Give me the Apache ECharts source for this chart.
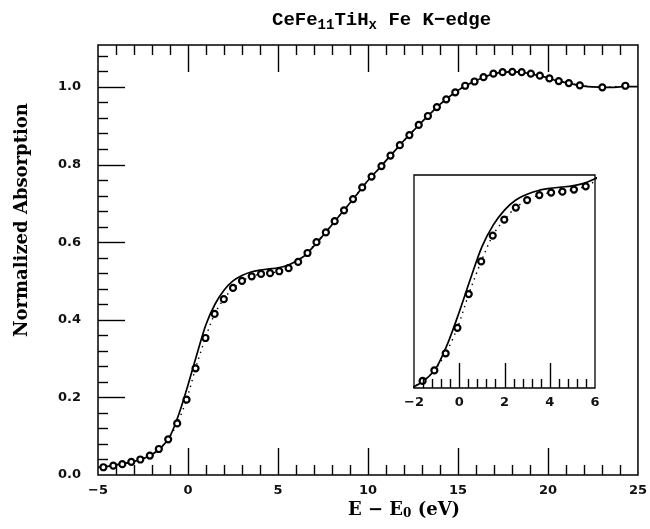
<!DOCTYPE html>
<html>
<head>
<meta charset="utf-8">
<script src="https://cdn.jsdelivr.net/npm/echarts@6/dist/echarts.min.js"></script>
<style>
  html, body { margin: 0; padding: 0; background: #fff; }
  #chart { width: 650px; height: 529px; }
</style>
</head>
<body>
<div id="chart"></div>
<script>
// Measured Fe K-edge spectrum (circles, dotted line)
const expEnergy = [-4.7, -4.15, -3.65, -3.15, -2.65, -2.12, -1.62, -1.1, -0.6, -0.08,
  0.42, 0.97, 1.48, 1.99, 2.5, 3.0, 3.54, 4.06, 4.56, 5.07, 5.59, 6.12, 6.64,
  7.14, 7.66, 8.15, 8.67, 9.17, 9.68, 10.2, 10.75, 11.25, 11.77, 12.3, 12.82,
  13.33, 13.83, 14.35, 14.85, 15.4, 15.92, 16.42, 16.97, 17.48, 18.02, 18.54,
  19.05, 19.55, 20.08, 20.6, 21.16, 21.77, 23.02, 24.3];
const expAbs = [0.020, 0.024, 0.028, 0.034, 0.040, 0.050, 0.067, 0.092, 0.133, 0.194,
  0.275, 0.353, 0.415, 0.453, 0.482, 0.500, 0.512, 0.518, 0.520, 0.525, 0.533, 0.549, 0.572,
  0.600, 0.625, 0.654, 0.682, 0.711, 0.741, 0.769, 0.796, 0.823, 0.850, 0.876, 0.902,
  0.925, 0.948, 0.968, 0.986, 1.003, 1.014, 1.025, 1.034, 1.038, 1.039, 1.038,
  1.034, 1.029, 1.022, 1.015, 1.010, 1.004, 0.999, 1.003];

// Calculated edge (solid line)
const calcEnergy = [-5, -4.5, -4, -3.5, -3, -2.5, -2, -1.5, -1, -0.5, 0, 0.5, 1, 1.5,
  2, 2.5, 3, 3.5, 4, 4.5, 5, 5.5, 6, 6.5, 7, 7.5, 8, 8.5, 9, 9.5, 10, 10.5, 11, 11.5,
  12, 12.5, 13, 13.5, 14, 14.5, 15, 15.5, 16, 16.5, 17, 17.5, 18, 18.5, 19, 19.5,
  20, 20.5, 21, 21.5, 22, 22.5, 23, 23.5, 24, 24.5, 25];
const calcAbs = [0.020, 0.022, 0.026, 0.030, 0.035, 0.042, 0.053, 0.070, 0.100, 0.158,
  0.232, 0.312, 0.388, 0.440, 0.476, 0.500, 0.514, 0.523, 0.528, 0.531, 0.534, 0.540,
  0.551, 0.566, 0.590, 0.617, 0.645, 0.673, 0.701, 0.730, 0.759, 0.784, 0.810, 0.836,
  0.862, 0.886, 0.910, 0.933, 0.955, 0.974, 0.991, 1.005, 1.016, 1.026, 1.034, 1.038,
  1.039, 1.038, 1.034, 1.029, 1.023, 1.016, 1.011, 1.006, 1.002, 1.000, 0.999, 0.999,
  1.000, 1.001, 1.001];

// Axis ranges and tick spacing
const mainX = { min: -5, max: 25, step: 5, minor: 1 };
const mainY = { min: 0, max: 1.108, step: 0.2, minor: 0.04 };
const insetX = { min: -2, max: 6, step: 2, minor: 0.4 };
const insetY = { min: 0.05, max: 0.56 };

const expPairs = expEnergy.map((e, i) => [e, expAbs[i]]);
const calcPairs = calcEnergy.map((e, i) => [e, calcAbs[i]]);

// Tick values strictly inside the frame: [value, isMajor]
function tickValues(min, max, minor, step) {
  const out = [];
  const n = Math.floor((max - min) / minor + 1e-6);
  for (let i = 1; i <= n; i++) {
    const v = +(min + i * minor).toFixed(4);
    if (v >= max - 1e-6) break;
    const r = v / step;
    out.push([v, Math.abs(r - Math.round(r)) < 1e-6]);
  }
  return out;
}

const MAJOR_LEN = 27, MINOR_LEN = 10;
const xTicks = tickValues(mainX.min, mainX.max, mainX.minor, mainX.step);
const yTicks = tickValues(mainY.min, mainY.max, mainY.minor, mainY.step);
const insetTicks = tickValues(insetX.min, insetX.max, insetX.minor, insetX.step);

// rows: [x, y, length, direction]  direction 0 = up, 1 = down, 2 = right
const bottomTickData = xTicks.map(([v, m]) => [v, mainY.min, m ? MAJOR_LEN : MINOR_LEN, 0]);
const topTickData = xTicks.map(([v, m]) => [v, mainY.max, m ? MAJOR_LEN : MINOR_LEN, 1]);
const leftTickData = yTicks.map(([v, m]) => [mainX.min, v, m ? MAJOR_LEN : MINOR_LEN, 2]);
const insetTickData = insetTicks.map(([v, m]) => [v, insetY.min, m ? 25 : 9, 0]);

function renderTick(params, api) {
  const p = api.coord([api.value(0), api.value(1)]);
  const len = api.value(2), dir = api.value(3);
  let x1 = p[0], y1 = p[1];
  if (dir === 2) y1 = Math.round(y1) + 0.5; else x1 = Math.round(x1) + 0.5;
  let x2 = x1, y2 = y1;
  if (dir === 0) y2 -= len; else if (dir === 1) y2 += len; else x2 += len;
  return {
    type: 'line',
    shape: { x1: x1, y1: y1, x2: x2, y2: y2 },
    style: { stroke: '#000', lineWidth: 1.4 }
  };
}

function tickSeries(data, xi, yi) {
  return {
    type: 'custom', xAxisIndex: xi, yAxisIndex: yi, data: data,
    renderItem: renderTick, silent: true, clip: false, z: 8,
    encode: { x: 0, y: 1 }
  };
}

const minus = v => String(v).replace('-', '\u2212');
const tickFont = () => ({ fontFamily: 'DejaVu Sans', fontWeight: 'bold', fontSize: 13, color: '#111' });
const noLine = () => ({ show: false, onZero: false });

const calcStyle = () => ({ color: '#000', width: 1.7 });
const expLine = () => ({ color: '#000', width: 1.4, type: [1.4, 4.5] });
const expItem = () => ({ color: '#fff', borderColor: '#000', borderWidth: 2.2 });

const chart = echarts.init(document.getElementById('chart'), null, { renderer: 'canvas' });

chart.setOption({
  animation: false,
  backgroundColor: '#fff',
  grid: [
    { left: 98, top: 45, width: 542, height: 430, show: true, borderColor: '#000', borderWidth: 1.5, backgroundColor: 'transparent' },
    { left: 414, top: 175, width: 181, height: 213, show: true, borderColor: '#000', borderWidth: 1.3, backgroundColor: '#fff' }
  ],
  xAxis: [
    {
      gridIndex: 0, type: 'value', position: 'bottom', min: mainX.min, max: mainX.max, interval: mainX.step,
      axisLine: noLine(), axisTick: { show: false }, splitLine: { show: false },
      axisLabel: Object.assign({ margin: 9, formatter: minus }, tickFont())
    },
    {
      gridIndex: 1, type: 'value', position: 'bottom', min: insetX.min, max: insetX.max, interval: insetX.step,
      axisLine: noLine(), axisTick: { show: false }, splitLine: { show: false },
      axisLabel: Object.assign({ margin: 8, formatter: minus }, tickFont())
    }
  ],
  yAxis: [
    {
      gridIndex: 0, type: 'value', position: 'left', min: mainY.min, max: mainY.max, interval: mainY.step,
      axisLine: noLine(), axisTick: { show: false }, splitLine: { show: false },
      axisLabel: Object.assign({ margin: 17, showMaxLabel: false, formatter: v => v.toFixed(1) }, tickFont())
    },
    {
      gridIndex: 1, type: 'value', position: 'left', min: insetY.min, max: insetY.max,
      axisLine: noLine(), axisTick: { show: false }, splitLine: { show: false },
      axisLabel: { show: false }
    }
  ],
  series: [
    {
      type: 'line', xAxisIndex: 0, yAxisIndex: 0, data: calcPairs, smooth: 0.3,
      showSymbol: false, lineStyle: calcStyle(), z: 3
    },
    {
      type: 'line', xAxisIndex: 0, yAxisIndex: 0, data: expPairs, smooth: 0.3,
      symbol: 'circle', symbolSize: 6, lineStyle: expLine(), itemStyle: expItem(), z: 4
    },
    {
      type: 'line', xAxisIndex: 1, yAxisIndex: 1, data: calcPairs, smooth: 0.3, clip: true,
      showSymbol: false, lineStyle: calcStyle(), z: 6
    },
    {
      type: 'line', xAxisIndex: 1, yAxisIndex: 1, data: expPairs, smooth: 0.3, clip: true,
      symbol: 'circle', symbolSize: 6, lineStyle: expLine(), itemStyle: expItem(), z: 7
    },
    tickSeries(bottomTickData, 0, 0),
    tickSeries(topTickData, 0, 0),
    tickSeries(leftTickData, 0, 0),
    tickSeries(insetTickData, 1, 1)
  ],
  graphic: [
    {
      type: 'text', left: 272, top: 9,
      style: {
        text: '{a|CeFe}{s|11}{a|TiH}{s|x}{a| Fe K\u2212edge}',
        rich: {
          a: { fontFamily: 'Liberation Mono', fontWeight: 'bold', fontSize: 19, lineHeight: 22, fill: '#000' },
          s: { fontFamily: 'Liberation Mono', fontWeight: 'bold', fontSize: 14, lineHeight: 22, padding: [9, 0, 0, 0], fill: '#000' }
        }
      }
    },
    {
      type: 'text', x: 22, y: 220, rotation: Math.PI / 2,
      style: {
        text: 'Normalized Absorption', fontFamily: 'DejaVu Serif', fontWeight: 'bold', fontSize: 18,
        fill: '#000', align: 'center', verticalAlign: 'middle'
      }
    },
    {
      type: 'text', left: 348, top: 500,
      style: {
        text: '{a|E \u2212 E}{s|0}{a| (eV)}',
        rich: {
          a: { fontFamily: 'DejaVu Serif', fontWeight: 'bold', fontSize: 18, lineHeight: 20, fill: '#000' },
          s: { fontFamily: 'DejaVu Serif', fontWeight: 'bold', fontSize: 12, lineHeight: 20, padding: [8, 0, 0, 0], fill: '#000' }
        }
      }
    }
  ]
});
</script>
</body>
</html>
